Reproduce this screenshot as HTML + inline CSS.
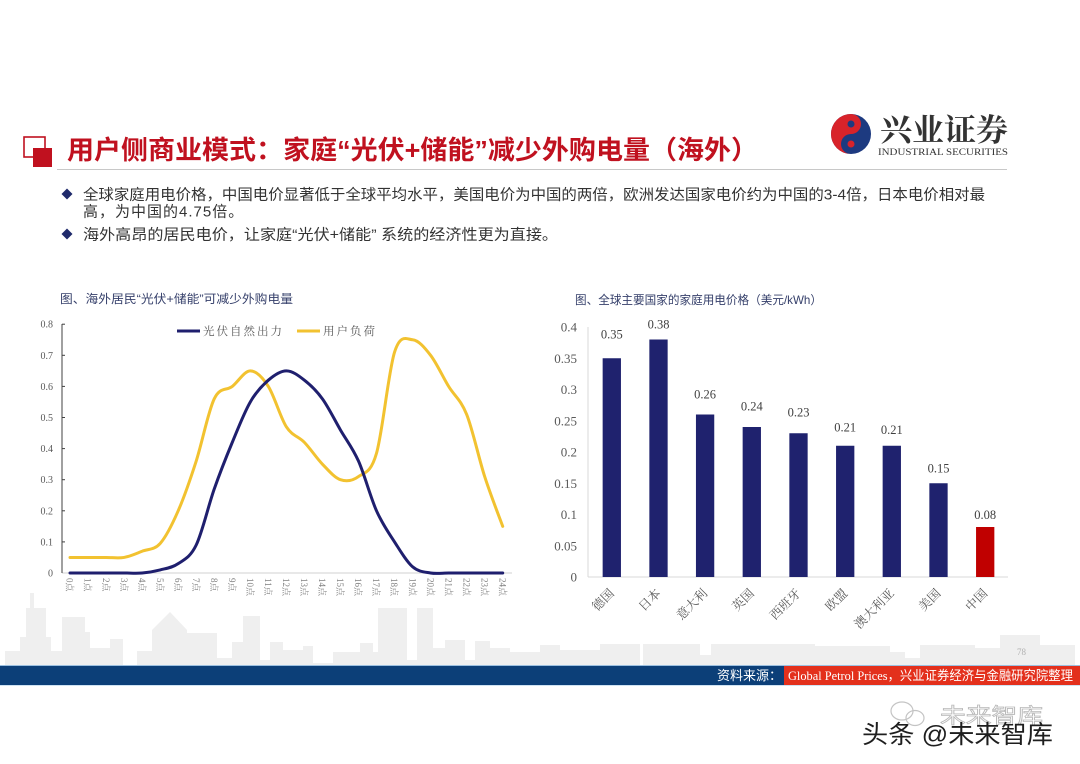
<!DOCTYPE html>
<html>
<head>
<meta charset="utf-8">
<style>
  html,body{margin:0;padding:0;background:#fff;}
  body{width:1080px;height:764px;overflow:hidden;}
  svg{display:block;}
  .serif{font-family:"Liberation Serif","Noto Serif CJK SC",serif;}
  .sans{font-family:"Liberation Sans","Noto Sans CJK SC",sans-serif;}
</style>
</head>
<body>
<svg width="1080" height="764" viewBox="0 0 1080 764" xmlns="http://www.w3.org/2000/svg">
  <rect x="0" y="0" width="1080" height="764" fill="#ffffff"/>

  <!-- skyline background -->
  <g fill="#efefef">
    <rect x="5" y="651" width="85" height="14"/>
    <rect x="20" y="637" width="31" height="28"/>
    <rect x="26" y="608" width="20" height="57"/>
    <rect x="30" y="593" width="4" height="20"/>
    <rect x="62" y="617" width="23" height="48"/>
    <rect x="75" y="632" width="15" height="33"/>
    <rect x="90" y="648" width="33" height="17"/>
    <rect x="110" y="639" width="13" height="26"/>
    <rect x="137" y="651" width="15" height="14"/>
    <polygon points="152,665 152,630 170,612 187,630 187,665"/>
    <rect x="187" y="633" width="30" height="32"/>
    <rect x="217" y="658" width="15" height="7"/>
    <rect x="232" y="642" width="11" height="23"/>
    <rect x="243" y="616" width="17" height="49"/>
    <rect x="260" y="660" width="10" height="5"/>
    <rect x="270" y="642" width="13" height="23"/>
    <rect x="283" y="650" width="20" height="15"/>
    <rect x="303" y="646" width="10" height="19"/>
    <rect x="313" y="663" width="20" height="2"/>
    <rect x="333" y="652" width="45" height="13"/>
    <rect x="360" y="643" width="13" height="22"/>
    <rect x="378" y="608" width="29" height="57"/>
    <rect x="407" y="660" width="10" height="5"/>
    <rect x="417" y="608" width="16" height="57"/>
    <rect x="433" y="648" width="12" height="17"/>
    <rect x="445" y="640" width="20" height="25"/>
    <rect x="465" y="660" width="10" height="5"/>
    <rect x="475" y="641" width="15" height="24"/>
    <rect x="490" y="648" width="20" height="17"/>
    <rect x="510" y="652" width="30" height="13"/>
    <rect x="540" y="645" width="20" height="20"/>
    <rect x="560" y="650" width="40" height="15"/>
    <rect x="600" y="644" width="40" height="21"/>
    <rect x="643" y="644" width="57" height="21"/>
    <rect x="700" y="655" width="11" height="10"/>
    <rect x="711" y="644" width="104" height="21"/>
    <rect x="815" y="646" width="75" height="19"/>
    <rect x="890" y="652" width="15" height="13"/>
    <rect x="905" y="658" width="15" height="7"/>
    <rect x="920" y="645" width="55" height="20"/>
    <rect x="975" y="648" width="25" height="17"/>
    <rect x="1000" y="635" width="40" height="30"/>
    <rect x="1040" y="645" width="35" height="20"/>
  </g>

  <!-- title icon -->
  <rect x="24" y="137" width="21" height="20" fill="none" stroke="#c0111f" stroke-width="1.6"/>
  <rect x="33" y="148" width="19" height="19" fill="#c0111f"/>

  <!-- title -->
  <text x="67" y="159" font-size="26" font-weight="bold" fill="#c0111f" textLength="691" lengthAdjust="spacingAndGlyphs" style='font-family:"Liberation Sans","Noto Sans CJK SC",sans-serif;'>用户侧商业模式：家庭“光伏+储能”减少外购电量（海外）</text>
  <line x1="57" y1="169.5" x2="1007" y2="169.5" stroke="#c8c8c8" stroke-width="1"/>

  <!-- logo -->
  <circle cx="851" cy="134" r="20" fill="#1d3a80"/>
  <path d="M851,114 A20,20 0 0,0 851,154 A10,10 0 0,1 851,134 A10,10 0 0,0 851,114 Z" fill="#d8232a"/>
  <circle cx="851" cy="124" r="3.5" fill="#1d3a80"/>
  <circle cx="851" cy="144" r="3.5" fill="#d8232a"/>
  <text x="880" y="141" font-size="31" font-weight="bold" fill="#333" textLength="128" lengthAdjust="spacingAndGlyphs" style='font-family:"Liberation Serif","Noto Serif CJK SC",serif;'>兴业证券</text>
  <text x="878" y="155" font-size="9" fill="#333" textLength="130" lengthAdjust="spacingAndGlyphs" class="serif">INDUSTRIAL SECURITIES</text>

  <!-- bullets -->
  <polygon points="67,188.5 72.5,194 67,199.5 61.5,194" fill="#1f2a6b"/>
  <polygon points="67,228.5 72.5,234 67,239.5 61.5,234" fill="#1f2a6b"/>
  <g font-size="15" fill="#333" class="sans">
    <text x="83" y="199.5" textLength="902" lengthAdjust="spacingAndGlyphs">全球家庭用电价格，中国电价显著低于全球平均水平，美国电价为中国的两倍，欧洲发达国家电价约为中国的3-4倍，日本电价相对最</text>
    <text x="83" y="216.5" letter-spacing="1">高，为中国的4.75倍。</text>
    <text x="83" y="239.5" textLength="475" lengthAdjust="spacingAndGlyphs">海外高昂的居民电价，让家庭“光伏+储能” 系统的经济性更为直接。</text>
  </g>

  <!-- ================= LEFT CHART ================= -->
  <text x="60" y="303" font-size="12" fill="#36406b" textLength="233" lengthAdjust="spacingAndGlyphs" class="sans">图、海外居民“光伏+储能”可减少外购电量</text>

  <!-- axes -->
  <line x1="62" y1="573" x2="512" y2="573" stroke="#d0d0d0" stroke-width="1"/>
  <line x1="62" y1="324" x2="62" y2="573" stroke="#404040" stroke-width="1"/>
  <g stroke="#404040" stroke-width="1">
    <line x1="62" y1="324.2" x2="65" y2="324.2"/>
    <line x1="62" y1="355.3" x2="65" y2="355.3"/>
    <line x1="62" y1="386.4" x2="65" y2="386.4"/>
    <line x1="62" y1="417.5" x2="65" y2="417.5"/>
    <line x1="62" y1="448.6" x2="65" y2="448.6"/>
    <line x1="62" y1="479.7" x2="65" y2="479.7"/>
    <line x1="62" y1="510.8" x2="65" y2="510.8"/>
    <line x1="62" y1="541.9" x2="65" y2="541.9"/>
  </g>
  <g font-size="10" fill="#595959" text-anchor="end" class="serif">
    <text x="53" y="327.7">0.8</text>
    <text x="53" y="358.8">0.7</text>
    <text x="53" y="389.9">0.6</text>
    <text x="53" y="421">0.5</text>
    <text x="53" y="452.1">0.4</text>
    <text x="53" y="483.2">0.3</text>
    <text x="53" y="514.3">0.2</text>
    <text x="53" y="545.4">0.1</text>
    <text x="53" y="576.5">0</text>
  </g>

  <!-- x labels rotated -->
  <g font-size="9" fill="#7f7f7f" class="serif">
    <text transform="translate(66.7,578) rotate(90)">0点</text>
    <text transform="translate(84.7,578) rotate(90)">1点</text>
    <text transform="translate(102.8,578) rotate(90)">2点</text>
    <text transform="translate(120.8,578) rotate(90)">3点</text>
    <text transform="translate(138.8,578) rotate(90)">4点</text>
    <text transform="translate(156.9,578) rotate(90)">5点</text>
    <text transform="translate(174.9,578) rotate(90)">6点</text>
    <text transform="translate(192.9,578) rotate(90)">7点</text>
    <text transform="translate(210.9,578) rotate(90)">8点</text>
    <text transform="translate(229,578) rotate(90)">9点</text>
    <text transform="translate(247,578) rotate(90)">10点</text>
    <text transform="translate(265,578) rotate(90)">11点</text>
    <text transform="translate(283.1,578) rotate(90)">12点</text>
    <text transform="translate(301.1,578) rotate(90)">13点</text>
    <text transform="translate(319.1,578) rotate(90)">14点</text>
    <text transform="translate(337.2,578) rotate(90)">15点</text>
    <text transform="translate(355.2,578) rotate(90)">16点</text>
    <text transform="translate(373.2,578) rotate(90)">17点</text>
    <text transform="translate(391.2,578) rotate(90)">18点</text>
    <text transform="translate(409.3,578) rotate(90)">19点</text>
    <text transform="translate(427.3,578) rotate(90)">20点</text>
    <text transform="translate(445.3,578) rotate(90)">21点</text>
    <text transform="translate(463.4,578) rotate(90)">22点</text>
    <text transform="translate(481.4,578) rotate(90)">23点</text>
    <text transform="translate(499.4,578) rotate(90)">24点</text>
  </g>

  <!-- legend -->
  <line x1="177" y1="331" x2="200" y2="331" stroke="#1f1f6e" stroke-width="3"/>
  <text x="203" y="335" font-size="11.5" fill="#595959" textLength="79" lengthAdjust="spacing" class="serif">光伏自然出力</text>
  <line x1="297" y1="331" x2="320" y2="331" stroke="#f2c230" stroke-width="3"/>
  <text x="323" y="335" font-size="11.5" fill="#595959" textLength="52" lengthAdjust="spacing" class="serif">用户负荷</text>

  <!-- series -->
  <path id="yellow" d="" fill="none" stroke="#f2c230" stroke-width="3" stroke-linejoin="round" stroke-linecap="round"/>
  <path id="navy" d="" fill="none" stroke="#1f1f6e" stroke-width="3" stroke-linejoin="round" stroke-linecap="round"/>

  <!-- ================= RIGHT CHART ================= -->
  <text x="575" y="304" font-size="12" fill="#36406b" textLength="247" lengthAdjust="spacingAndGlyphs" class="sans">图、全球主要国家的家庭用电价格（美元/kWh）</text>

  <line x1="588" y1="327" x2="588" y2="577" stroke="#d9d9d9" stroke-width="1"/>
  <line x1="588" y1="577" x2="1008" y2="577" stroke="#d9d9d9" stroke-width="1"/>

  <g font-size="13" fill="#595959" text-anchor="end" class="serif">
    <text x="577" y="331.5">0.4</text>
    <text x="577" y="362.75">0.35</text>
    <text x="577" y="394">0.3</text>
    <text x="577" y="425.25">0.25</text>
    <text x="577" y="456.5">0.2</text>
    <text x="577" y="487.75">0.15</text>
    <text x="577" y="519">0.1</text>
    <text x="577" y="550.25">0.05</text>
    <text x="577" y="581.5">0</text>
  </g>

  <g fill="#1f226e">
    <rect x="602.65" y="358.25" width="18.3" height="218.75"/>
    <rect x="649.35" y="339.5" width="18.3" height="237.5"/>
    <rect x="695.95" y="414.5" width="18.3" height="162.5"/>
    <rect x="742.65" y="427" width="18.3" height="150"/>
    <rect x="789.35" y="433.25" width="18.3" height="143.75"/>
    <rect x="836.05" y="445.75" width="18.3" height="131.25"/>
    <rect x="882.65" y="445.75" width="18.3" height="131.25"/>
    <rect x="929.35" y="483.25" width="18.3" height="93.75"/>
  </g>
  <rect x="976.05" y="527" width="18.3" height="50" fill="#c00000"/>

  <g font-size="12.5" fill="#404040" text-anchor="middle" class="serif">
    <text x="611.8" y="338.5">0.35</text>
    <text x="658.5" y="328.5">0.38</text>
    <text x="705.1" y="398.5">0.26</text>
    <text x="751.8" y="410.5">0.24</text>
    <text x="798.5" y="416.5">0.23</text>
    <text x="845.2" y="431.5">0.21</text>
    <text x="891.8" y="434">0.21</text>
    <text x="938.5" y="472.5">0.15</text>
    <text x="985.2" y="519">0.08</text>
  </g>

  <g font-size="12.5" fill="#595959" text-anchor="end" style='font-family:"Liberation Serif","Noto Serif CJK SC",serif;'>
    <text transform="translate(614.8,594) rotate(-45)">德国</text>
    <text transform="translate(661.5,594) rotate(-45)">日本</text>
    <text transform="translate(708.1,594) rotate(-45)">意大利</text>
    <text transform="translate(754.8,594) rotate(-45)">英国</text>
    <text transform="translate(801.5,594) rotate(-45)">西班牙</text>
    <text transform="translate(848.2,594) rotate(-45)">欧盟</text>
    <text transform="translate(894.8,594) rotate(-45)">澳大利亚</text>
    <text transform="translate(941.5,594) rotate(-45)">美国</text>
    <text transform="translate(988.2,594) rotate(-45)">中国</text>
  </g>

  <!-- page number -->
  <text x="1017" y="655" font-size="9" fill="#b0b0b0" class="serif">78</text>

  <!-- bottom band -->
  <rect x="0" y="665" width="1080" height="1" fill="#9cc0e0"/>
  <rect x="0" y="666" width="1080" height="19" fill="#0c3f78"/>
  <rect x="784" y="666" width="296" height="19" fill="#e3301c"/>
  <rect x="0" y="685" width="1080" height="1" fill="#cfe3f3"/>
  <text x="782" y="680" font-size="13" fill="#ffffff" text-anchor="end" class="sans">资料来源：</text>
  <text x="788" y="680" font-size="13" fill="#ffffff" textLength="285" lengthAdjust="spacingAndGlyphs" style='font-family:"Liberation Serif","Noto Sans CJK SC",sans-serif;'>Global Petrol Prices，兴业证券经济与金融研究院整理</text>

  <!-- watermark -->
  <g fill="none" stroke="#c4c4c4" stroke-width="1.2">
    <ellipse cx="902" cy="711" rx="11" ry="9"/>
    <ellipse cx="915" cy="718" rx="9" ry="7.5"/>
  </g>
  <text x="940" y="723" font-size="21" fill="#ffffff" stroke="#b8b8b8" stroke-width="0.8" textLength="103" lengthAdjust="spacingAndGlyphs" class="sans">未来智库</text>
  <text x="862" y="743" font-size="25" fill="#1e1e1e" textLength="191" lengthAdjust="spacingAndGlyphs" class="sans">头条 @未来智库</text>
</svg>

<script>
(function(){
  function mk(vals){
    var x0=70, dx=18.03, y0=573, sc=311;
    var p=vals.map(function(v,i){return [x0+i*dx, y0-v*sc];});
    var d="M"+p[0][0].toFixed(2)+","+p[0][1].toFixed(2);
    for(var i=0;i<p.length-1;i++){
      var a=p[i-1]||p[i], b=p[i], c=p[i+1], e=p[i+2]||c;
      var c1x=b[0]+(c[0]-a[0])/6, c1y=b[1]+(c[1]-a[1])/6;
      var c2x=c[0]-(e[0]-b[0])/6, c2y=c[1]-(e[1]-b[1])/6;
      d+=" C"+c1x.toFixed(2)+","+c1y.toFixed(2)+" "+c2x.toFixed(2)+","+c2y.toFixed(2)+" "+c[0].toFixed(2)+","+c[1].toFixed(2);
    }
    return d;
  }
  var navy=[0,0,0,0,0,0.01,0.03,0.09,0.27,0.42,0.55,0.62,0.65,0.62,0.56,0.46,0.36,0.2,0.1,0.02,0,0,0,0,0];
  var yel=[0.05,0.05,0.05,0.05,0.07,0.095,0.2,0.36,0.56,0.6,0.65,0.6,0.47,0.42,0.35,0.30,0.31,0.385,0.71,0.75,0.7,0.6,0.51,0.31,0.15];
  document.getElementById('navy').setAttribute('d',mk(navy));
  document.getElementById('yellow').setAttribute('d',mk(yel));
})();
</script>
</body>
</html>
